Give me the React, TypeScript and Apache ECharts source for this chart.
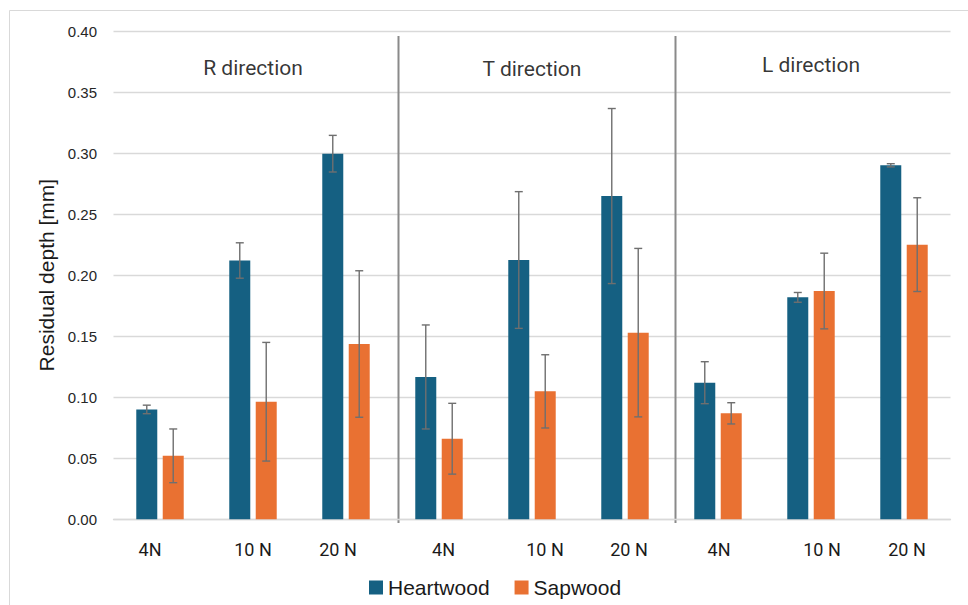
import React, { useEffect, useRef } from "react";
import * as echarts from "echarts";

// Residual indentation depth (mm) of heartwood and sapwood, per load and direction
const categories = ["4N", "10 N", "20 N", "4N", "10 N", "20 N", "4N", "10 N", "20 N"];
const heartwood = [0.09, 0.212, 0.2995, 0.1166, 0.2124, 0.2648, 0.1119, 0.1818, 0.29];
const heartwoodErr = [0.0035, 0.0145, 0.015, 0.0426, 0.056, 0.0717, 0.0172, 0.004, 0.0013];
const sapwood = [0.052, 0.0963, 0.1436, 0.066, 0.1048, 0.1529, 0.0868, 0.187, 0.225];
const sapwoodErr = [0.022, 0.0486, 0.06, 0.029, 0.03, 0.069, 0.0087, 0.031, 0.0384];

// Direction headings, anchored on the middle category of each group
const directions = ["R direction", "T direction", "L direction"];
const directionCategory = [1, 4, 7];
const directionLevel = [0.37, 0.369, 0.372];

const Y_MIN = 0;
const Y_MAX = 0.4;
const Y_STEP = 0.05;

// Style constants
const HEART = "#156082";
const SAP = "#E97132";
const GRID = "#d9d9d9";
const ERR = "#6f6f6f";
const TEXT = "#1a1a1a";
const BAR_W = 21;
const GAP_RATIO = 0.26;
const labelShift = [-10, 0, -8, 4.5, 13, 4, 1, 11, 3];
const SANS = "'Liberation Sans', Arial, sans-serif";
const NARROW = "Roboto, 'Noto Sans', sans-serif";

const errorBars = (name: string, vals: number[], errs: number[], shift: number) => ({
  type: "custom",
  name,
  z: 5,
  data: vals.map((v, i) => [i, v, errs[i]]),
  renderItem: (_params: any, api: any) => {
    const i = api.value(0);
    const v = api.value(1);
    const e = api.value(2);
    const top = api.coord([i, v + e]);
    const bot = api.coord([i, v - e]);
    const x = top[0] + shift;
    const cap = 4;
    const style = { stroke: ERR, lineWidth: 1.4 };
    return {
      type: "group",
      children: [
        { type: "line", shape: { x1: x, y1: top[1], x2: x, y2: bot[1] }, style },
        { type: "line", shape: { x1: x - cap, y1: top[1], x2: x + cap, y2: top[1] }, style },
        { type: "line", shape: { x1: x - cap, y1: bot[1], x2: x + cap, y2: bot[1] }, style },
      ],
    };
  },
});

export default function App() {
  const ref = useRef<HTMLDivElement>(null);

  useEffect(() => {
    if (!ref.current) return;
    const chart = echarts.init(ref.current, undefined, { renderer: "svg" });
    const half = (BAR_W + BAR_W * GAP_RATIO) / 2;

    const rich: Record<string, any> = {};
    labelShift.forEach((d, i) => {
      rich["c" + i] = {
        fontSize: 18,
        fontFamily: NARROW,
        color: TEXT,
        padding: d > 0 ? [0, 0, 0, 2 * d] : [0, -2 * d, 0, 0],
      };
    });

    chart.setOption({
      animation: false,
      backgroundColor: "#ffffff",
      grid: { left: 113.5, right: 17.5, top: 31, bottom: 85.7 },
      legend: {
        data: ["Heartwood", "Sapwood"],
        left: 364,
        top: 572,
        icon: "rect",
        itemWidth: 14,
        itemHeight: 14,
        itemGap: 25,
        textStyle: { fontSize: 21, fontFamily: SANS, color: TEXT },
      },
      xAxis: {
        type: "category",
        data: categories,
        axisTick: { show: false },
        axisLine: { show: true, lineStyle: { color: GRID, width: 1.3 } },
        axisLabel: {
          interval: 0,
          margin: 21,
          formatter: (value: string, index: number) => `{c${index}|${value}}`,
          rich,
        },
      },
      yAxis: {
        type: "value",
        min: Y_MIN,
        max: Y_MAX,
        interval: Y_STEP,
        name: "Residual depth [mm]",
        nameLocation: "middle",
        nameRotate: 90,
        nameGap: 53,
        nameTextStyle: { fontSize: 21, fontFamily: SANS, color: TEXT },
        axisLine: { show: false },
        axisTick: { show: false },
        axisLabel: {
          margin: 16.5,
          fontSize: 15,
          fontFamily: SANS,
          color: "#262626",
          formatter: (v: number) => v.toFixed(2),
        },
        splitLine: { lineStyle: { color: GRID, width: 1.3 } },
      },
      series: [
        {
          name: "Heartwood",
          type: "bar",
          data: heartwood,
          barWidth: BAR_W,
          barGap: GAP_RATIO * 100 + "%",
          itemStyle: { color: HEART },
        },
        {
          name: "Sapwood",
          type: "bar",
          data: sapwood,
          barWidth: BAR_W,
          barGap: GAP_RATIO * 100 + "%",
          itemStyle: { color: SAP },
        },
        errorBars("Heartwood error", heartwood, heartwoodErr, -half),
        errorBars("Sapwood error", sapwood, sapwoodErr, half),
        {
          name: "Directions",
          type: "scatter",
          symbolSize: 0,
          silent: true,
          itemStyle: { color: "#000000" },
          data: directions.map((d, k) => ({ name: d, value: [directionCategory[k], directionLevel[k]] })),
          label: {
            show: true,
            position: "inside",
            formatter: (p: any) => p.name,
            fontSize: 21,
            fontFamily: NARROW,
            color: "#000000",
            textBorderWidth: 0,
          },
        },
      ],
    });

    // Group separators drawn between the load groups, plus the outer frame
    const px = (c: number) => chart.convertToPixel({ xAxisIndex: 0 }, c) as number;
    const py = (v: number) => chart.convertToPixel({ yAxisIndex: 0 }, v) as number;
    const sep1 = (px(2) + px(3)) / 2 + 6;
    const sep2 = (px(5) + px(6)) / 2 + 4;
    const yTop = py(0.396);
    const yBot = py(-0.003);
    const sepStyle = { stroke: "#8a8a8a", lineWidth: 2 };
    chart.setOption({
      graphic: [
        { type: "rect", shape: { x: 9.5, y: 10.5, width: 980, height: 620 }, style: { fill: "none", stroke: GRID, lineWidth: 1 }, silent: true },
        { type: "line", shape: { x1: sep1, y1: yTop, x2: sep1, y2: yBot }, style: sepStyle, silent: true },
        { type: "line", shape: { x1: sep2, y1: yTop, x2: sep2, y2: yBot }, style: sepStyle, silent: true },
      ],
    });

    return () => chart.dispose();
  }, []);

  return <div ref={ref} style={{ position: "fixed", left: 0, top: 0, width: 968, height: 605 }} />;
}
